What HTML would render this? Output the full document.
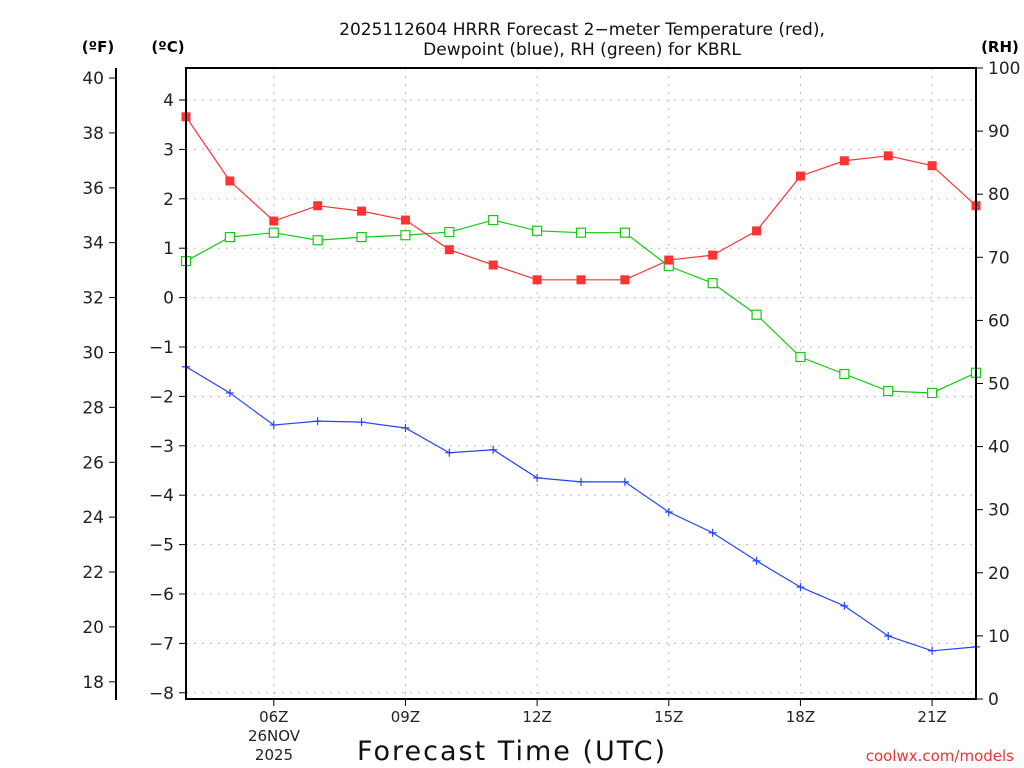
<!DOCTYPE html>
<html><head><meta charset="utf-8"><style>
body{margin:0;background:#fff;}
svg{display:block;font-family:"DejaVu Sans","Liberation Sans",sans-serif;}
</style></head><body>
<svg id="chart" width="1024" height="768" viewBox="0 0 1024 768">
<g id="grid"></g>
<g id="series"></g>
<g id="axes"></g>
<text x="582" y="35" font-size="17" text-anchor="middle" fill="#111">2025112604 HRRR Forecast 2−meter Temperature (red),</text>
<text x="582" y="55" font-size="17" text-anchor="middle" fill="#111">Dewpoint (blue), RH (green) for KBRL</text>
<text x="98" y="52" font-size="15" font-weight="bold" text-anchor="middle">(ºF)</text>
<text x="168" y="52" font-size="15" font-weight="bold" text-anchor="middle">(ºC)</text>
<text x="1000" y="52" font-size="15" font-weight="bold" text-anchor="middle">(RH)</text>
<text x="512" y="760" font-size="27" letter-spacing="2" text-anchor="middle" fill="#111">Forecast Time (UTC)</text>
<text x="274" y="741" font-size="15" text-anchor="middle" fill="#222">26NOV</text>
<text x="274" y="760" font-size="15" text-anchor="middle" fill="#222">2025</text>
<text x="1014" y="761" font-size="15" text-anchor="end" fill="#e33">coolwx.com/models</text>
</svg>
<script>
const hours=[4,5,6,7,8,9,10,11,12,13,14,15,16,17,18,19,20,21,22];
const tempC=[3.66,2.36,1.55,1.86,1.75,1.57,0.97,0.66,0.36,0.36,0.36,0.76,0.86,1.35,2.46,2.77,2.87,2.67,1.86];
const dewC=[-1.40,-1.93,-2.58,-2.50,-2.52,-2.64,-3.14,-3.08,-3.65,-3.73,-3.73,-4.34,-4.76,-5.33,-5.86,-6.24,-6.85,-7.15,-7.07];
const rh=[69.4,73.2,73.9,72.7,73.2,73.5,74.0,75.9,74.2,73.9,73.9,68.6,65.9,60.9,54.2,51.5,48.8,48.5,51.7];
const xTickHours=[6,9,12,15,18,21];
const xTickLabels=["06Z","09Z","12Z","15Z","18Z","21Z"];
const cTicks=[4,3,2,1,0,-1,-2,-3,-4,-5,-6,-7,-8];
const fTicks=[40,38,36,34,32,30,28,26,24,22,20,18];
const rhTicks=[100,90,80,70,60,50,40,30,20,10,0];

const L=186,R=976,T=68,B=699;
const xs=h=>L+(h-4)*(R-L)/18;
const yC=c=>297.6-c*49.4;
const yF=f=>yC((f-32)*5/9);
const yR=r=>B-r*(B-T)/100;
const NS="http://www.w3.org/2000/svg";
function mk(parent,tag,attrs){const e=document.createElementNS(NS,tag);for(const k in attrs)e.setAttribute(k,attrs[k]);document.getElementById(parent).appendChild(e);return e;}
xTickHours.forEach(h=>{const e=mk('grid','line',{x1:xs(h),x2:xs(h),y1:T,y2:B,stroke:'#bbb','stroke-dasharray':'2,6'});

});
cTicks.forEach(c=>{const e=mk('grid','line',{x1:L,x2:R,y1:yC(c),y2:yC(c),stroke:'#bbb','stroke-dasharray':'2,6'});

});
let fr=mk('axes','rect',{x:L,y:T,width:R-L,height:B-T,fill:'none',stroke:'#000','stroke-width':2});


let fa=mk('axes','line',{x1:116,x2:116,y1:68,y2:700,stroke:'#000','stroke-width':2});


cTicks.forEach(c=>{mk('axes','line',{x1:L-7,x2:L,y1:yC(c),y2:yC(c),stroke:'#000'});
const t=mk('axes','text',{x:L-12,y:yC(c)+6,'font-size':17,'text-anchor':'end',fill:'#222'});t.textContent=(c<0?'−'+(-c):c);

});
fTicks.forEach(f=>{mk('axes','line',{x1:109,x2:116,y1:yF(f),y2:yF(f),stroke:'#000'});
const t=mk('axes','text',{x:104,y:yF(f)+6,'font-size':17,'text-anchor':'end',fill:'#222'});t.textContent=f;

});
rhTicks.forEach(r=>{mk('axes','line',{x1:R,x2:R+7,y1:yR(r),y2:yR(r),stroke:'#000'});
const t=mk('axes','text',{x:R+12,y:yR(r)+6,'font-size':17,fill:'#222'});t.textContent=r;

});
xTickHours.forEach((h,i)=>{mk('axes','line',{x1:xs(h),x2:xs(h),y1:B,y2:B+7,stroke:'#000'});
const t=mk('axes','text',{x:xs(h),y:B+23,'font-size':15,'text-anchor':'middle',fill:'#222'});t.textContent=xTickLabels[i];

});
function line(vals,yf,col,name){const pts=vals.map((v,i)=>xs(hours[i])+','+yf(v)).join(' ');
const p=mk('series','polyline',{points:pts,fill:'none',stroke:col,'stroke-width':1.2});

}
line(rh,yR,'#1c1','rh-line');
line(tempC,yC,'#f33','temperature-line');
line(dewC,yC,'#24f','dewpoint-line');
rh.forEach((v,i)=>{const m=mk('series','rect',{x:xs(hours[i])-4.5,y:yR(v)-4.5,width:9,height:9,fill:'#fff',stroke:'#1c1','stroke-width':1.2});

});
tempC.forEach((v,i)=>{const m=mk('series','rect',{x:xs(hours[i])-4.5,y:yC(v)-4.5,width:9,height:9,fill:'#f33'});

});
dewC.forEach((v,i)=>{const x=xs(hours[i]),y=yC(v);const m=mk('series','path',{d:`M${x-4},${y}H${x+4}M${x},${y-4}V${y+4}`,stroke:'#24f','stroke-width':1.2});

});
</script>
</body></html>
